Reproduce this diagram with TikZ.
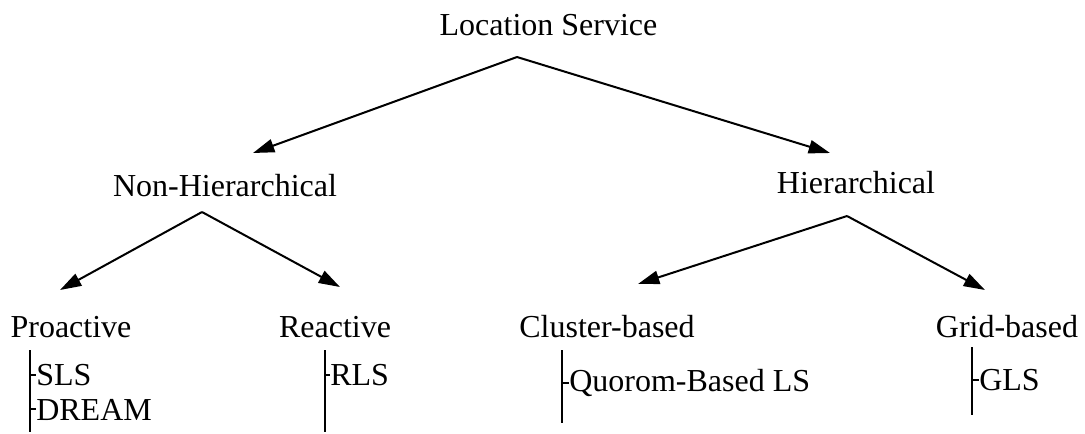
\documentclass[tikz,border=0pt]{standalone}
\usepackage{fontspec}
\setmainfont{Liberation Serif}
\usetikzlibrary{arrows.meta}

\begin{document}
\begin{tikzpicture}[x=0.75pt,y=0.75pt,yscale=-1,xscale=1,
  every node/.style={inner sep=0pt,font=\fontsize{24}{28}\selectfont},
  branch/.style={line width=1.5pt,-{Triangle[length=16pt,width=10pt]}},
  stem/.style={line width=1.5pt}]
%set diagram left start at 0, and has height of 432
\path (0,0) rectangle (1085,432);

% Text Node
\node (ls) [anchor=base] at (548.5,35) {Location Service};
% Text Node
\node (nh) [anchor=base] at (225,196) {Non-Hierarchical};
% Text Node
\node (hi) [anchor=base] at (856,193) {Hierarchical};
% Text Node
\node (pro) [anchor=base] at (71,337) {Proactive};
% Text Node
\node (rea) [anchor=base] at (335,337) {Reactive};
% Text Node
\node (clu) [anchor=base] at (607,337) {Cluster-based};
% Text Node
\node (gri) [anchor=base] at (1007,337) {Grid-based};

% Leaf Nodes
\node (sls) [anchor=base west] at (36,385) {SLS};
\node (dream) [anchor=base west] at (36,420) {DREAM};
\node (rls) [anchor=base west] at (330,385) {RLS};
\node (quorom) [anchor=base west] at (569,391) {Quorom-Based LS};
\node (gls) [anchor=base west] at (979,390) {GLS};

% Branch points
\coordinate (ls-foot) at (517,57);
\coordinate (nh-head) at (253,153);
\coordinate (hi-head) at (830,153);
\coordinate (nh-foot) at (202,212);
\coordinate (pro-head) at (60,290);
\coordinate (rea-head) at (340,287);
\coordinate (hi-foot) at (847,216);
\coordinate (clu-head) at (638,284);
\coordinate (gri-head) at (985,290);

%Straight Lines
\draw [branch] (ls-foot) -- (nh-head);
\draw [branch] (ls-foot) -- (hi-head);
\draw [branch] (nh-foot) -- (pro-head);
\draw [branch] (nh-foot) -- (rea-head);
\draw [branch] (hi-foot) -- (clu-head);
\draw [branch] (hi-foot) -- (gri-head);

% Stems
\coordinate (pro-top) at (30,350);
\coordinate (pro-bot) at (30,432);
\coordinate (rea-top) at (325,350);
\coordinate (rea-bot) at (325,432);
\coordinate (clu-top) at (562,350);
\coordinate (clu-bot) at (562,423);
\coordinate (gri-top) at (972,347);
\coordinate (gri-bot) at (972,415);

\draw [stem] (pro-top) -- (pro-bot);
\draw [stem] (rea-top) -- (rea-bot);
\draw [stem] (clu-top) -- (clu-bot);
\draw [stem] (gri-top) -- (gri-bot);

% Ticks
\draw [stem] (sls.west -| pro-top) -- (sls.west);
\draw [stem] (dream.west -| pro-top) -- (dream.west);
\draw [stem] (rls.west -| rea-top) -- (rls.west);
\draw [stem] (quorom.west -| clu-top) -- (quorom.west);
\draw [stem] (gls.west -| gri-top) -- (gls.west);

\end{tikzpicture}
\end{document}
